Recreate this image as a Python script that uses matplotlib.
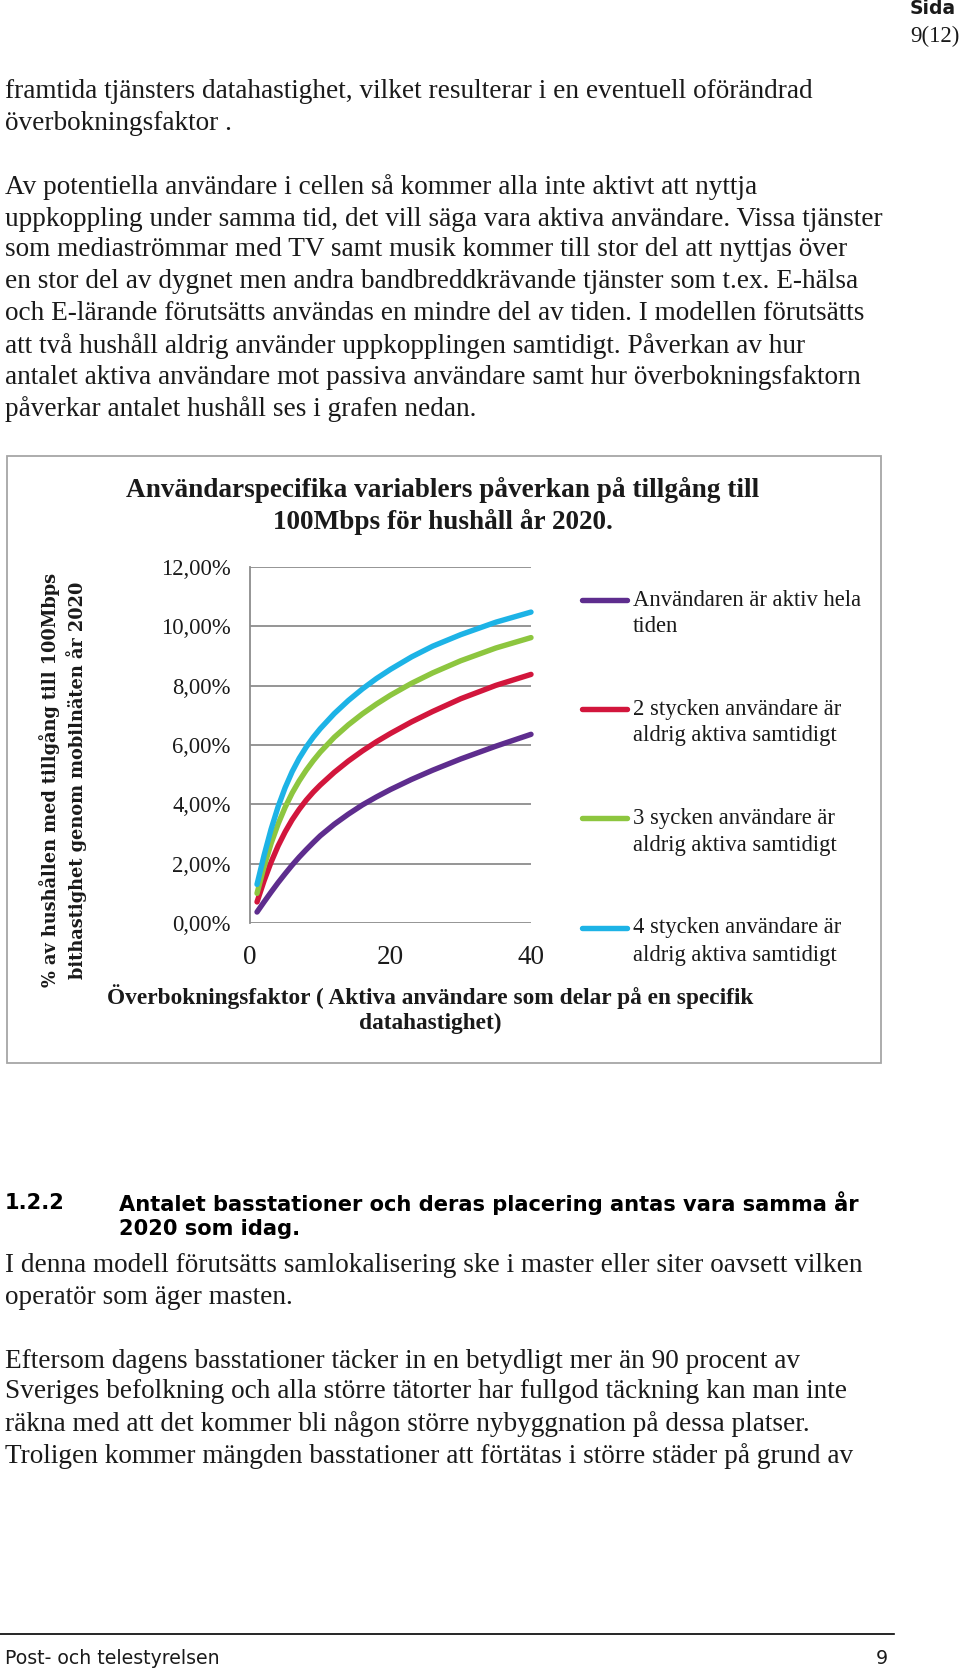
import matplotlib
matplotlib.use("Agg")
import matplotlib.pyplot as plt
from matplotlib.lines import Line2D
from matplotlib.patches import Rectangle
from matplotlib.ticker import FuncFormatter

# ---------------- data ----------------
x_values = [1, 2, 3, 4, 5, 6, 7, 8, 9, 10, 12, 14, 16, 18, 20, 23, 26, 30, 35, 40]
aktiv_hela_tiden = [0.37, 0.71, 1.04, 1.36, 1.66, 1.95, 2.22, 2.47, 2.71, 2.94, 3.33, 3.67, 3.98, 4.25, 4.50, 4.84, 5.15, 5.53, 5.96, 6.36]
tva_aldrig = [0.71, 1.42, 2.05, 2.60, 3.07, 3.48, 3.83, 4.14, 4.41, 4.65, 5.08, 5.46, 5.80, 6.11, 6.39, 6.78, 7.13, 7.56, 8.01, 8.38]
tre_aldrig = [1.00, 1.90, 2.68, 3.34, 3.90, 4.38, 4.79, 5.15, 5.47, 5.76, 6.26, 6.68, 7.05, 7.38, 7.68, 8.08, 8.43, 8.84, 9.27, 9.62]
fyra_aldrig = [1.30, 2.28, 3.16, 3.92, 4.56, 5.10, 5.55, 5.93, 6.26, 6.55, 7.06, 7.50, 7.89, 8.24, 8.55, 8.97, 9.33, 9.72, 10.14, 10.48]

series_labels = [
    ["Användaren är aktiv hela", "tiden"],
    ["2 stycken användare är", "aldrig aktiva samtidigt"],
    ["3 sycken användare är", "aldrig aktiva samtidigt"],
    ["4 stycken användare är", "aldrig aktiva samtidigt"],
]
series_colors = ["#5E2D8E", "#D2163C", "#8DC63F", "#1DB3E6"]

y_ticks = [0, 2, 4, 6, 8, 10, 12]
x_ticks = [0, 20, 40]

chart_title = ["Användarspecifika variablers påverkan på tillgång till",
               "100Mbps för hushåll år 2020."]
y_label = ["% av hushållen med tillgång till 100Mbps",
           "bithastighet genom mobilnäten år 2020"]
x_label = ["Överbokningsfaktor ( Aktiva användare som delar på en specifik",
           "datahastighet)"]

para1 = ["framtida tjänsters datahastighet, vilket resulterar i en eventuell oförändrad",
         "överbokningsfaktor ."]
para2 = ["Av potentiella användare i cellen så kommer alla inte aktivt att nyttja",
         "uppkoppling under samma tid, det vill säga vara aktiva användare. Vissa tjänster",
         "som mediaströmmar med TV samt musik kommer till stor del att nyttjas över",
         "en stor del av dygnet men andra bandbreddkrävande tjänster som t.ex. E-hälsa",
         "och E-lärande förutsätts användas en mindre del av tiden. I modellen förutsätts",
         "att två hushåll aldrig använder uppkopplingen samtidigt. Påverkan av hur",
         "antalet aktiva användare mot passiva användare samt hur överbokningsfaktorn",
         "påverkar antalet hushåll ses i grafen nedan."]
heading_num = "1.2.2"
heading = ["Antalet basstationer och deras placering antas vara samma år",
           "2020 som idag."]
para3 = ["I denna modell förutsätts samlokalisering ske i master eller siter oavsett vilken",
         "operatör som äger masten."]
para4 = ["Eftersom dagens basstationer täcker in en betydligt mer än 90 procent av",
         "Sveriges befolkning och alla större tätorter har fullgod täckning kan man inte",
         "räkna med att det kommer bli någon större nybyggnation på dessa platser.",
         "Troligen kommer mängden basstationer att förtätas i större städer på grund av"]
footer_left = "Post- och telestyrelsen"
footer_right = "9"

# ---------------- layout helpers ----------------
W, H = 960, 1670
fig = plt.figure(figsize=(W / 100, H / 100), dpi=100)
fig.patch.set_facecolor("white")


def fx(x):
    return x / W


def fy(y):
    return 1 - y / H


SERIF = "Liberation Serif"
SANS = "DejaVu Sans"
body_size = 19.6
TXT = "#1a1a1a"


def put(x, y, s, **kw):
    kw.setdefault("family", SERIF)
    kw.setdefault("va", "center")
    kw.setdefault("color", TXT)
    fig.text(fx(x), fy(y), s, **kw)


# header
put(956, 9, "Sida", family=SANS, fontweight="bold", fontsize=13.5, ha="right")
put(960, 36, "9(12)", fontsize=16.5, ha="right")

# paragraphs
for y, s in zip([91, 123], para1):
    put(5, y, s, fontsize=body_size)
for y, s in zip([187, 219, 250, 282, 314, 346, 378, 409], para2):
    put(5, y, s, fontsize=body_size)

# chart frame
fig.add_artist(Rectangle((fx(7), fy(1063)), fx(881) - fx(7), fy(456) - fy(1063),
                         transform=fig.transFigure, fill=False,
                         edgecolor="#a6a6a6", linewidth=1.3))

# chart title
for y, s in zip([490, 522], chart_title):
    put(443, y, s, fontsize=19.6, fontweight="bold", ha="center")

# axes
ax = fig.add_axes([fx(250), fy(923), fx(531) - fx(250), fy(567) - fy(923)])
ax.set_xlim(0, 40)
ax.set_ylim(0, 12)
ax.set_yticks(y_ticks)
ax.set_xticks(x_ticks)
ax.yaxis.set_major_formatter(FuncFormatter(lambda v, p: f"{v:.2f}".replace(".", ",") + "%"))
ax.grid(axis="y", color="#8c8c8c", linewidth=1.3)
ax.set_axisbelow(True)
for side in ["top", "right", "bottom"]:
    ax.spines[side].set_visible(False)
ax.spines["left"].set_color("#8c8c8c")
ax.spines["left"].set_linewidth(1.3)
ax.tick_params(axis="both", length=0)
ax.tick_params(axis="y", pad=14, labelsize=16.3, labelcolor=TXT)
ax.tick_params(axis="x", pad=16, labelsize=19.5, labelcolor=TXT)
for lab in ax.get_xticklabels() + ax.get_yticklabels():
    lab.set_family(SERIF)

for vals, col in zip([aktiv_hela_tiden, tva_aldrig, tre_aldrig, fyra_aldrig], series_colors):
    ax.plot(x_values, vals, color=col, linewidth=3.9, solid_capstyle="round",
            solid_joinstyle="round", clip_on=False, zorder=3)

# y label (two rotated lines)
put(50, 780, y_label[0], family="DejaVu Serif", fontweight="bold", fontsize=12.8,
    rotation=90, ha="center")
put(77, 780, y_label[1], family="DejaVu Serif", fontweight="bold", fontsize=12.8,
    rotation=90, ha="center")

# x label
for y, s in zip([997, 1023], x_label):
    put(430, y, s, fontsize=16.8, fontweight="bold", ha="center")

# legend
legend_y = [600, 709, 818, 928]
for (l1, l2), col, y in zip(series_labels, series_colors, legend_y):
    fig.add_artist(Line2D([fx(582), fx(627)], [fy(y), fy(y)], transform=fig.transFigure,
                          color=col, linewidth=3.9, solid_capstyle="round"))
    put(633, y, l1, fontsize=16.3)
    put(633, y + 27, l2, fontsize=16.3)

# heading 1.2.2
put(5, 1203, heading_num, family=SANS, fontweight="bold", fontsize=15.1, color="black")
put(119, 1203, heading[0], family=SANS, fontweight="bold", fontsize=15.1, color="black")
put(119, 1229, heading[1], family=SANS, fontweight="bold", fontsize=15.1, color="black")

for y, s in zip([1266, 1298], para3):
    put(5, y, s, fontsize=body_size)
for y, s in zip([1361, 1392, 1424, 1456], para4):
    put(5, y, s, fontsize=body_size)

# footer
fig.add_artist(Line2D([0, fx(894)], [fy(1634), fy(1634)], transform=fig.transFigure,
                      color="black", linewidth=1.2))
put(5, 1659, footer_left, family=SANS, fontsize=13.6)
put(888, 1659, footer_right, family=SANS, fontsize=13.6, ha="right")

fig.savefig("out.png", dpi=100)
